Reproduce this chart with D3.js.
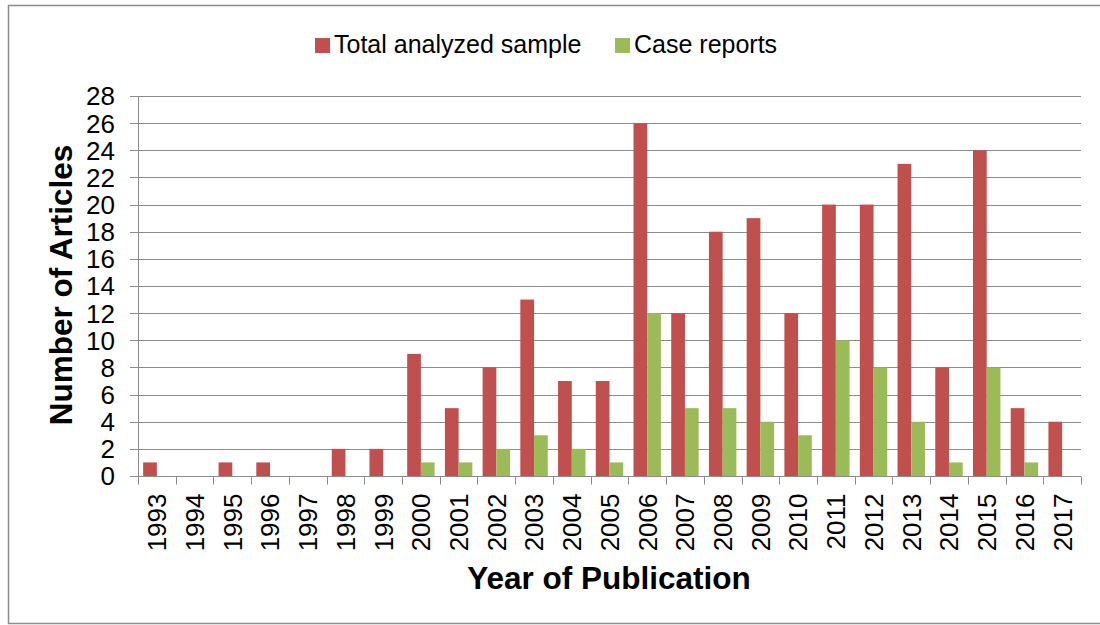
<!DOCTYPE html>
<html>
<head>
<meta charset="utf-8">
<script src="https://cdn.jsdelivr.net/npm/d3@7"></script>
<style>
  body { margin: 0; background: #fff; }
  svg { display: block; font-family: "Liberation Sans", Arial, sans-serif; }
</style>
</head>
<body>
<svg id="chart"></svg>
<script>
// years on the x axis
const YEARS = ["1993", "1994", "1995", "1996", "1997", "1998", "1999", "2000", "2001",
    "2002", "2003", "2004", "2005", "2006", "2007", "2008", "2009", "2010", "2011",
    "2012", "2013", "2014", "2015", "2016", "2017"];

const TOTAL = [1, 0, 1, 1, 0, 2, 2, 9, 5, 8, 13, 7, 7, 26, 12, 18, 19, 12, 20, 20, 23, 8, 24, 5, 4];
const CASES = [0, 0, 0, 0, 0, 0, 0, 1, 1, 2, 3, 2, 1, 12, 5, 5, 4, 3, 10, 8, 4, 1, 8, 1, 0];

const SERIES = ["Total analyzed sample", "Case reports"];
const Y_TICKS = d3.range(0, 29, 2);

const WIDTH = 1100;
const HEIGHT = 625;
const MARGIN = { top: 96, right: 19, bottom: 149, left: 138 };
const COLORS = ["#C0504D", "#9BBB59"];

const svg = d3.select("#chart")
    .attr("width", WIDTH)
    .attr("height", HEIGHT);

// outer chart border
svg.append("rect")
    .attr("x", 8.5)
    .attr("y", 5.5)
    .attr("width", 1120)
    .attr("height", 618)
    .attr("fill", "none")
    .attr("stroke", "#8c8c8c")
    .attr("stroke-width", 1.5);

const innerW = WIDTH - MARGIN.left - MARGIN.right;
const innerH = HEIGHT - MARGIN.top - MARGIN.bottom;

const g = svg.append("g")
    .attr("transform", "translate(" + MARGIN.left + "," + MARGIN.top + ")");

const x = d3.scaleBand()
    .domain(YEARS)
    .range([0, innerW])
    .paddingInner(0)
    .paddingOuter(0);

// 150% gap like excel
const x1 = d3.scaleBand()
    .domain(SERIES)
    .range([0, x.bandwidth()])
    .paddingInner(0)
    .paddingOuter(0.375);

const y = d3.scaleLinear()
    .domain([0, 28])
    .range([innerH, 0]);

// gridlines
g.append("g")
    .selectAll("line")
    .data(Y_TICKS)
    .enter()
    .append("line")
    .attr("x1", -8)
    .attr("x2", innerW)
    .attr("y1", d => Math.round(y(d)) + 0.5)
    .attr("y2", d => Math.round(y(d)) + 0.5)
    .attr("stroke", "#8c8c8c")
    .attr("stroke-width", 1);

// y tick labels
g.append("g")
    .selectAll("text")
    .data(Y_TICKS)
    .enter()
    .append("text")
    .attr("x", -23)
    .attr("y", d => y(d))
    .attr("dy", "0.36em")
    .attr("text-anchor", "end")
    .attr("font-size", "26px")
    .attr("fill", "#000")
    .text(d => d);

// bars
const rows = YEARS.map((yr, i) => ({ year: yr, values: [TOTAL[i], CASES[i]] }));

const groups = g.selectAll(".year")
    .data(rows)
    .enter()
    .append("g")
    .attr("class", "year")
    .attr("transform", d => "translate(" + x(d.year) + ",0)");

groups.selectAll("rect")
    .data(d => d.values.map((v, i) => ({ key: SERIES[i], value: v, i: i })))
    .enter()
    .append("rect")
    .attr("x", d => x1(d.key))
    .attr("width", x1.bandwidth())
    .attr("y", d => y(d.value))
    .attr("height", d => innerH - y(d.value))
    .attr("fill", d => COLORS[d.i]);

// y axis line
g.append("line")
    .attr("x1", 0.5).attr("x2", 0.5)
    .attr("y1", 0).attr("y2", innerH)
    .attr("stroke", "#8c8c8c");

// x axis
const xAxis = g.append("g")
    .attr("transform", "translate(0," + (Math.round(innerH) + 0.5) + ")");

xAxis.append("line")
    .attr("x1", 0).attr("x2", innerW)
    .attr("stroke", "#8c8c8c");

xAxis.selectAll(".tick")
    .data(YEARS.concat(["end"]))
    .enter()
    .append("line")
    .attr("x1", (d, i) => Math.round(i * x.step()) + 0.5)
    .attr("x2", (d, i) => Math.round(i * x.step()) + 0.5)
    .attr("y1", 0)
    .attr("y2", 8)
    .attr("stroke", "#8c8c8c");

xAxis.selectAll("text")
    .data(YEARS)
    .enter()
    .append("text")
    .attr("transform", d => "translate(" + (x(d) + x.bandwidth() / 2) + ",17) rotate(-90)")
    .attr("dy", "0.36em")
    .attr("text-anchor", "end")
    .attr("font-size", "26px")
    .attr("fill", "#000")
    .text(d => d);

// axis titles
svg.append("text")
    .attr("x", 609)
    .attr("y", 589)
    .attr("text-anchor", "middle")
    .attr("font-size", "31.5px")
    .attr("font-weight", "bold")
    .text("Year of Publication");

svg.append("text")
    .attr("transform", "translate(72,285) rotate(-90)")
    .attr("text-anchor", "middle")
    .attr("font-size", "31.5px")
    .attr("font-weight", "bold")
    .text("Number of Articles");

// legend
const legendX = [315, 615];
const legend = svg.selectAll(".legend")
    .data(SERIES)
    .enter()
    .append("g")
    .attr("class", "legend")
    .attr("transform", (d, i) => "translate(" + legendX[i] + ",38)");

legend.append("rect")
    .attr("width", 15)
    .attr("height", 15)
    .attr("fill", (d, i) => COLORS[i]);

legend.append("text")
    .attr("x", 19)
    .attr("y", 15)
    .attr("font-size", "25px")
    .attr("fill", "#000")
    .text(d => d);
</script>
</body>
</html>
